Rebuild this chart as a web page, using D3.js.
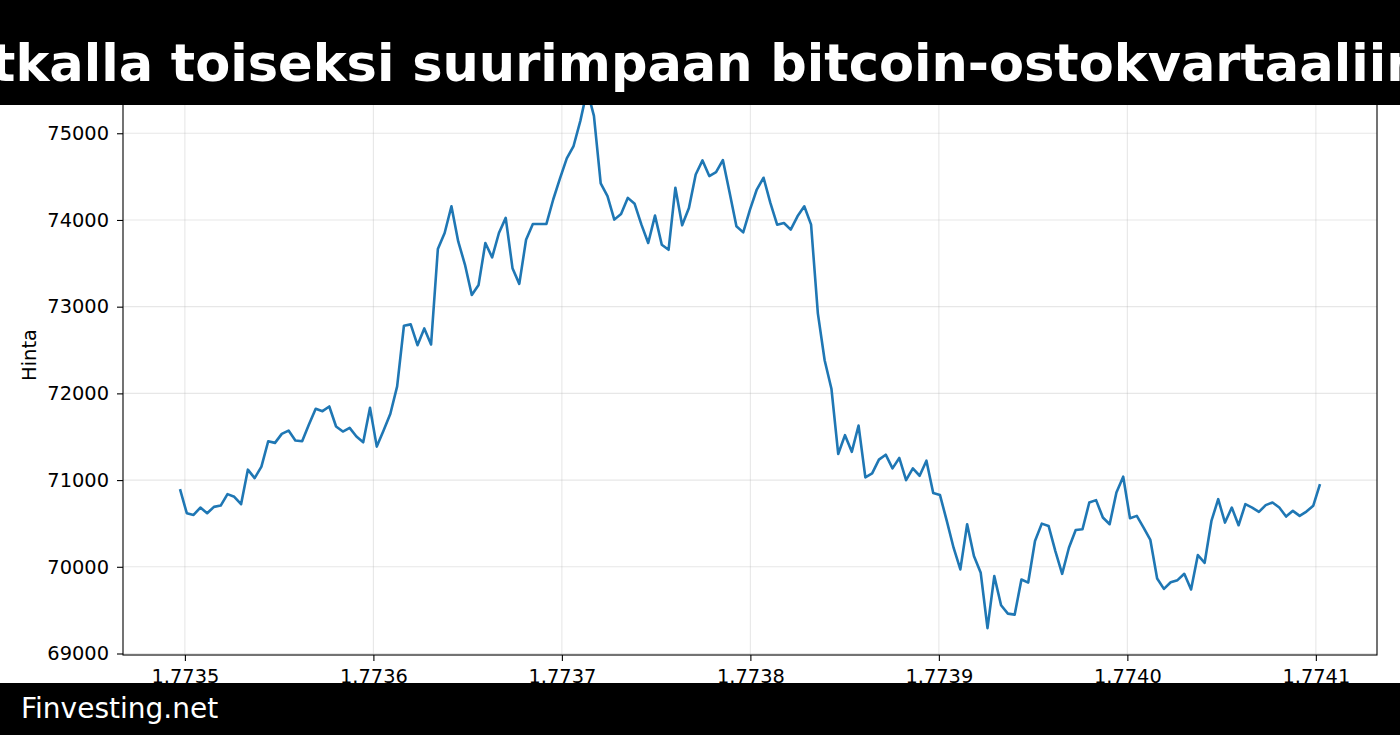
<!DOCTYPE html>
<html>
<head>
<meta charset="utf-8">
<script src="https://cdn.jsdelivr.net/npm/d3@7"></script>
<style>
  html, body { margin: 0; padding: 0; background: #fff; }
  svg { display: block; }
</style>
</head>
<body>
<svg id="chart" width="1400" height="735"></svg>
<script>
// ---- data ----
const titleText = "tkalla toiseksi suurimpaan bitcoin-ostokvartaaliin";
const footerText = "Finvesting.net";
const yLabel = "Hinta";
const startTime = 1773497400;   // unix seconds (first hourly sample)
const stepSeconds = 3600;       // hourly samples
const prices = [
  70896, 70618, 70598, 70683, 70618, 70691, 70706, 70838, 70807, 70722,
  71120, 71023, 71155, 71448, 71429, 71533, 71571, 71456, 71448, 71641,
  71823, 71795, 71849, 71618, 71560, 71602, 71502, 71436, 71834, 71386,
  71571, 71765, 72081, 72780, 72796, 72556, 72749, 72564, 73664, 73850,
  74158, 73753, 73483, 73135, 73251, 73734, 73568, 73850, 74024, 73444,
  73263, 73772, 73954, 73954, 73954, 74236, 74480, 74710, 74853, 75143,
  75500, 75200, 74421, 74274, 74004, 74070, 74255, 74186, 73946, 73734,
  74050, 73714, 73656, 74371, 73938, 74139, 74525, 74687, 74506, 74552,
  74691, 74313, 73927, 73857, 74120, 74351, 74487, 74197, 73946, 73965,
  73888, 74042, 74158, 73946, 72923, 72382, 72054, 71301, 71518, 71326,
  71629, 71031, 71077, 71236, 71293, 71135, 71255, 70999, 71135, 71050,
  71224, 70850, 70827, 70529, 70220, 69970, 70491, 70124, 69930, 69293,
  69892, 69556, 69460, 69448, 69853, 69818, 70297, 70498, 70471, 70181,
  69919, 70220, 70425, 70433, 70741, 70769, 70568, 70491, 70857, 71039,
  70560, 70587, 70452, 70309, 69865, 69745, 69822, 69846, 69919, 69738,
  70135, 70046, 70529, 70780, 70510, 70683, 70479, 70722, 70683, 70633,
  70711, 70741, 70683, 70579, 70645, 70587, 70637, 70703, 70954
];
const xTickValues = [1773500000, 1773600000, 1773700000, 1773800000, 1773900000, 1774000000, 1774100000];
const xTickLabels = ["1.7735", "1.7736", "1.7737", "1.7738", "1.7739", "1.7740", "1.7741"];
const yTickValues = [69000, 70000, 71000, 72000, 73000, 74000, 75000];
const yTickLabels = ["69000", "70000", "71000", "72000", "73000", "74000", "75000"];

const series = prices.map((p, i) => ({ t: startTime + i * stepSeconds, p }));

// ---- layout ----
const W = 1400, H = 735;
const ax = { left: 123, right: 1377, top: 63, bottom: 655 };
const font = "DejaVu Sans, Verdana, sans-serif";
const svg = d3.select("#chart");

const tExt = d3.extent(series, d => d.t);
const pExt = d3.extent(series, d => d.p);
const tPad = (tExt[1] - tExt[0]) * 0.05;
const pPad = (pExt[1] - pExt[0]) * 0.05;

const x = d3.scaleLinear().domain([tExt[0] - tPad, tExt[1] + tPad]).range([ax.left, ax.right]);
const y = d3.scaleLinear().domain([pExt[0] - pPad, pExt[1] + pPad]).range([ax.bottom, ax.top]);

// clip for plot area
svg.append("defs").append("clipPath").attr("id", "plotclip")
  .append("rect").attr("x", ax.left).attr("y", ax.top)
  .attr("width", ax.right - ax.left).attr("height", ax.bottom - ax.top);

// grid
const grid = svg.append("g").attr("clip-path", "url(#plotclip)");
grid.selectAll("line.vg").data(xTickValues).join("line")
  .attr("x1", d => x(d)).attr("x2", d => x(d))
  .attr("y1", ax.top).attr("y2", ax.bottom)
  .attr("stroke", "#b0b0b0").attr("stroke-opacity", 0.3).attr("stroke-width", 1.1);
grid.selectAll("line.hg").data(yTickValues).join("line")
  .attr("y1", d => y(d)).attr("y2", d => y(d))
  .attr("x1", ax.left).attr("x2", ax.right)
  .attr("stroke", "#b0b0b0").attr("stroke-opacity", 0.3).attr("stroke-width", 1.1);

// line
const line = d3.line().x(d => x(d.t)).y(d => y(d.p));
svg.append("path").datum(series)
  .attr("clip-path", "url(#plotclip)")
  .attr("d", line)
  .attr("fill", "none")
  .attr("stroke", "#1f77b4")
  .attr("stroke-width", 2.6)
  .attr("stroke-linejoin", "round")
  .attr("stroke-linecap", "butt");

// axes
const xAxis = d3.axisBottom(x).tickValues(xTickValues)
  .tickFormat((d, i) => xTickLabels[i]).tickSize(6).tickPadding(8);
const yAxis = d3.axisLeft(y).tickValues(yTickValues)
  .tickFormat((d, i) => yTickLabels[i]).tickSize(6).tickPadding(8);

const gx = svg.append("g").attr("transform", `translate(0,${ax.bottom})`).call(xAxis);
const gy = svg.append("g").attr("transform", `translate(${ax.left},0)`).call(yAxis);
[gx, gy].forEach(g => {
  g.select(".domain").remove();
  g.selectAll(".tick line").attr("stroke", "#000").attr("stroke-width", 1.1);
  g.selectAll(".tick text").attr("fill", "#000")
    .style("font-family", font).style("font-size", "19.4px");
});

// spines
svg.append("rect")
  .attr("x", ax.left).attr("y", ax.top)
  .attr("width", ax.right - ax.left).attr("height", ax.bottom - ax.top)
  .attr("fill", "none").attr("stroke", "#000").attr("stroke-width", 1.1);

// y label
svg.append("text")
  .attr("transform", `translate(36,355) rotate(-90)`)
  .attr("text-anchor", "middle")
  .style("font-family", font).style("font-size", "19.4px")
  .attr("fill", "#000")
  .text(yLabel);

// title banner
svg.append("rect").attr("x", 0).attr("y", 0).attr("width", W).attr("height", 105).attr("fill", "#000");
svg.append("text")
  .attr("x", -9).attr("y", 81)
  .style("font-family", font).style("font-size", "51px").style("font-weight", "bold")
  .attr("fill", "#fff")
  .text(titleText);

// footer banner
svg.append("rect").attr("x", 0).attr("y", 683).attr("width", W).attr("height", H - 683).attr("fill", "#000");
svg.append("text")
  .attr("x", 21).attr("y", 718)
  .style("font-family", font).style("font-size", "28px")
  .attr("fill", "#fff")
  .text(footerText);
</script>
</body>
</html>
